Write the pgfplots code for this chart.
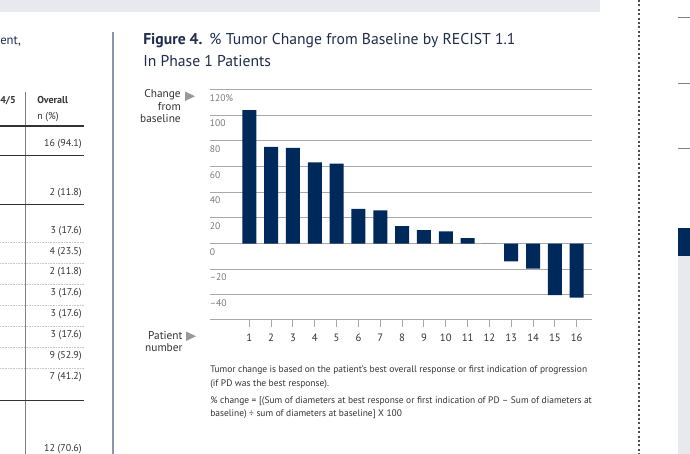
\documentclass[border=0pt]{standalone}
\usepackage{fontspec}
\setmainfont{PT Sans}
\usepackage{pgfplots}
\pgfplotsset{compat=1.18}
\definecolor{navy}{HTML}{00295B}
\definecolor{ttl}{HTML}{1F2C4C}
\definecolor{gridc}{HTML}{A8A8A8}
\definecolor{txt}{HTML}{333333}
\definecolor{band}{HTML}{E8E9EE}
\definecolor{divc}{HTML}{8D96A8}
\definecolor{ylab}{HTML}{7A7A7A}
\begin{document}
\begin{tikzpicture}
\begin{scope}[x=0.75pt,y=-0.75pt]
\useasboundingbox (0,0) rectangle (690,454);
\fill[white] (0,0) rectangle (690,454);
\fill[band] (0,0) rectangle (600,12);
% left table fragment
\draw[divc, line width=1pt] (113,32) -- (113,454);
\draw[gray, line width=0.6pt] (25,92) -- (25,454);
\draw[txt, line width=1.3pt] (0,126) -- (84,126);
\draw[txt, line width=0.7pt] (0,155) -- (84,155);
\draw[txt, line width=0.7pt] (0,204) -- (84,204);
\foreach \yy in {242,263,284,305,326,347,368} \draw[gray!45, line width=0.35pt, dash pattern=on 0.6pt off 0.6pt] (0,\yy) -- (84,\yy);
\draw[txt, line width=0.7pt] (0,400) -- (84,400);
\node[anchor=base west, inner sep=0, font=\fontsize{9.5}{11}\selectfont, text=ttl] at (0,44) {ent,};
\node[anchor=base west, inner sep=0, font=\bfseries\fontsize{7.5}{9}\selectfont, text=txt] at (0,103) {4/5};
\node[anchor=base west, inner sep=0, font=\bfseries\fontsize{7.5}{9}\selectfont, text=txt] at (37,103) {Overall};
\node[anchor=base west, inner sep=0, font=\fontsize{7.5}{9}\selectfont, text=txt] at (37,119) {n (\%)};
\foreach \yy/\tt in {146/16 (94.1),195/2 (11.8),233/3 (17.6),254/4 (23.5),274/2 (11.8),295/3 (17.6),316/3 (17.6),337/3 (17.6),358/9 (52.9),379/7 (41.2),451/12 (70.6)}
  \node[anchor=base east, inner sep=0, font=\fontsize{7.5}{9}\selectfont, text=txt] at (82,\yy) {\tt};
% right fragment
\draw[black!70, line width=1.5pt, dash pattern=on 1.5pt off 1.8pt] (639,0) -- (639,454);
\foreach \yy in {17,83,148} \draw[gray, line width=0.6pt] (678,\yy) -- (690,\yy);
\fill[navy] (678,228) rectangle (690,256);
\fill[band] (678,256) rectangle (690,454);
% title
\node[anchor=base west, inner sep=0, font=\fontsize{11.75}{14}\selectfont, text=ttl] at (143,44) {\textbf{Figure 4.}\hspace{0.45em}\% Tumor Change from Baseline by RECIST 1.1};
\node[anchor=base west, inner sep=0, font=\fontsize{11.75}{14}\selectfont, text=ttl] at (143,66.7) {In Phase 1 Patients};
% side labels
\node[anchor=base east, inner sep=0, font=\fontsize{8.5}{10}\selectfont, text=txt] at (181,97.7) {Change};
\node[anchor=base east, inner sep=0, font=\fontsize{8.5}{10}\selectfont, text=txt] at (181,110) {from};
\node[anchor=base east, inner sep=0, font=\fontsize{8.5}{10}\selectfont, text=txt] at (181,122.7) {baseline};
\fill[gray!80] (185,91.5) -- (185,101) -- (195,96.25) -- cycle;
\node[anchor=base east, inner sep=0, font=\fontsize{8.5}{10}\selectfont, text=txt] at (182.7,339.3) {Patient};
\node[anchor=base east, inner sep=0, font=\fontsize{8.5}{10}\selectfont, text=txt] at (182.7,351.5) {number};
\fill[gray!80] (186,331.5) -- (186,341) -- (196,336.25) -- cycle;
% notes
\node[anchor=base west, inner sep=0, font=\fontsize{7.08}{8}\selectfont, text=txt] at (210,372.7) {Tumor change is based on the patient’s best overall response or first indication of progression};
\node[anchor=base west, inner sep=0, font=\fontsize{7.08}{8}\selectfont, text=txt] at (210,386) {(if PD was the best response).};
\node[anchor=base west, inner sep=0, font=\fontsize{7.08}{8}\selectfont, text=txt] at (210,403.3) {\% change = [(Sum of diameters at best response or first indication of PD \textendash{} Sum of diameters at};
\node[anchor=base west, inner sep=0, font=\fontsize{7.08}{8}\selectfont, text=txt] at (210,416) {baseline) ÷ sum of diameters at baseline] X 100};
\end{scope}
\begin{axis}[
 at={(157.125pt,-239.4pt)}, anchor=south west,
 scale only axis, width=286.875pt, height=172.2pt,
 xmin=-0.823, xmax=16.70, ymin=-59, ymax=120,
 axis x line*=bottom, axis y line*=left,
 y axis line style={draw=none},
 x axis line style={draw=gridc, line width=0.8pt, -},
 xtick={1,...,16}, tick align=outside, major tick length=5.5pt,
 xtick style={draw=gridc, line width=0.8pt},
 ytick={-40,-20,...,120}, ytick style={draw=none},
 yticklabels={\textendash 40,\textendash 20,0,20,40,60,80,100,120\%},
 ymajorgrids, grid style={draw=gridc, line width=0.8pt},
 yticklabel style={anchor=north west, xshift=2.2pt, font=\fontsize{7.2}{8}\selectfont, text=ylab},
 xticklabel style={font=\fontsize{8}{9}\selectfont, text=txt, yshift=-2.2pt},
 /pgf/number format/assume math mode=true,
 ybar, bar width=10.5pt, clip=false,
]
\addplot[fill=navy, draw=none, bar shift=0pt] coordinates {
(1,104) (2,75.3) (3,74.5) (4,63.3) (5,62.3) (6,27.1) (7,25.8) (8,13.6)
(9,10.4) (10,9.4) (11,4.2) (12,0) (13,-14) (14,-19.5) (15,-40.3) (16,-42.2)};
\end{axis}
\end{tikzpicture}
\end{document}
